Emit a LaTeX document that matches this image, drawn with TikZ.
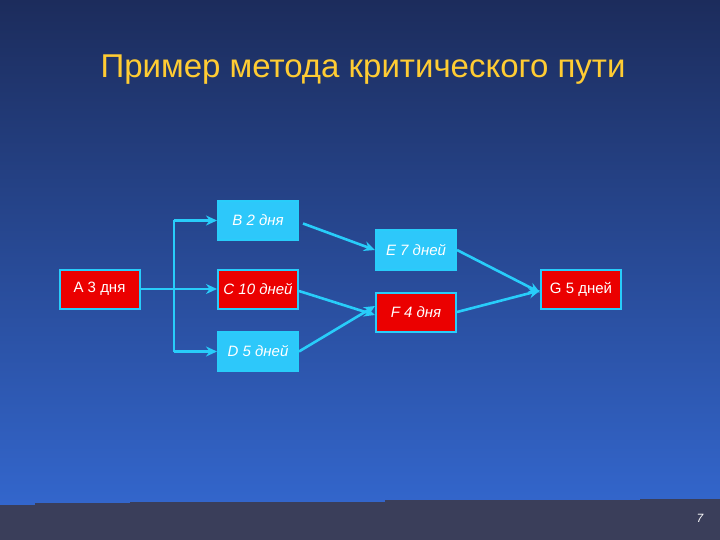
\documentclass[tikz,border=0pt]{standalone}
\usepackage{fontspec}
\setmainfont{Liberation Sans}
\usepackage{tikz}
\usetikzlibrary{arrows.meta}
\definecolor{bgtop}{RGB}{28,44,92}
\definecolor{bgmid}{RGB}{42,84,165}
\definecolor{bgbot}{RGB}{51,102,204}
\definecolor{floor}{RGB}{58,62,90}
\definecolor{cyanline}{RGB}{40,205,250}
\definecolor{cyanbox}{RGB}{45,200,250}
\definecolor{redbox}{RGB}{235,0,0}
\definecolor{gold}{RGB}{255,204,51}

\tikzset{
  task/.style={draw=cyanline, line width=2pt, minimum width=80pt, minimum height=39pt,
    inner sep=0pt, text=white, font=\fontsize{15}{17}\selectfont},
  crit/.style={task, fill=redbox},
  free/.style={task, fill=cyanbox},
  slant/.style={font=\fontsize{15}{17}\selectfont\itshape},
  link/.style={draw=cyanline, line width=2.6pt},
  arr/.style={link, -{Stealth[length=11pt, width=10pt]}}
}

\begin{document}
\begin{tikzpicture}[x=1pt, y=-1pt]

\useasboundingbox (0,0) rectangle (720,540);

% background
\fill[top color=bgtop, middle color=bgmid, bottom color=bgbot] (0,0) rectangle (720,505);
\fill[floor] (0,540) -- (0,505) -- (35,505) -- (35,503) -- (130,503) -- (130,502)
  -- (385,502) -- (385,500) -- (640,500) -- (640,499) -- (720,499) -- (720,540) -- cycle;

\node[font=\fontsize{33}{38}\selectfont, text=gold] (title) at (363,70) {Пример метода критического пути};

% tasks
\node[crit] (A) at (99.5,289) {A 3 дня};
\node[free, slant] (B) at (258,220.5) {B 2 дня};
\node[crit, slant] (C) at (258,289) {C 10 дней};
\node[free, slant] (D) at (258,351.5) {D 5 дней};
\node[free, slant] (E) at (416,250) {E 7 дней};
\node[crit, slant] (F) at (416,312) {F 4 дня};
\node[crit] (G) at (581,289.5) {G 5 дней};

% fork after A
\coordinate (jB) at (174,220.5);
\coordinate (jC) at (174,289);
\coordinate (jD) at (174,351.5);
\draw[link] (A.east) -- (jC);
\draw[link] (jB) -- (jD);
\draw[arr] (jB) -- (B.west);
\draw[arr] (jC) -- (C.west);
\draw[arr] (jD) -- (D.west);

\draw[arr] ([xshift=4pt,yshift=-3pt]B.east) -- (E.west);
\draw[arr] ([yshift=-2pt]C.east) -- ([yshift=-3pt]F.west);
\draw[arr] (D.east) -- ([yshift=6pt]F.west);
\draw[arr] (E.east) -- ([yshift=-3pt]G.west);
\draw[arr] (F.east) -- ([yshift=-1pt]G.west);

\node[text=white, font=\fontsize{12}{14}\selectfont\itshape] (page) at (700,518) {7};

\end{tikzpicture}
\end{document}
